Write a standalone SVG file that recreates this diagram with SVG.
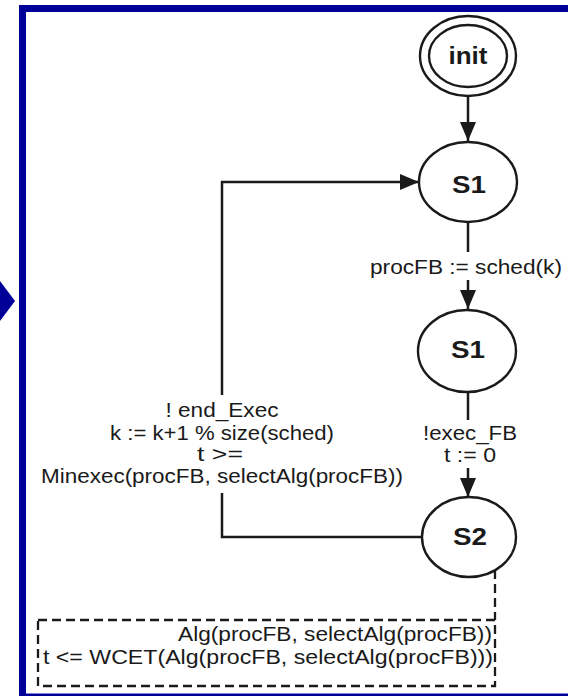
<svg xmlns="http://www.w3.org/2000/svg" width="568" height="696" viewBox="0 0 568 696">
<style>
.st{fill:#fff;stroke:#1a1a1a;stroke-width:2.4}
.ln{fill:none;stroke:#1a1a1a;stroke-width:2.5}
.dash{fill:none;stroke:#1a1a1a;stroke-width:2.3;stroke-dasharray:9,5}
.lbl{font-family:"Liberation Sans",Arial,sans-serif;font-size:20px;fill:#1a1a1a}
.nm{font-family:"Liberation Sans",Arial,sans-serif;font-size:23px;font-weight:bold;fill:#1a1a1a;text-anchor:middle}
</style>
<defs>
<marker id="arr" markerUnits="userSpaceOnUse" markerWidth="20" markerHeight="16" refX="19" refY="8" orient="auto">
<path d="M0,0 L19,8 L0,16 z" fill="#1a1a1a"/>
</marker>
</defs>
<rect x="22.5" y="8.5" width="600" height="688.5" fill="#fff" stroke="#000099" stroke-width="7"/>
<polygon points="0,281 15,301 0,321" fill="#000099"/>
<g id="connectors">
<line class="ln" x1="468" y1="96" x2="468" y2="141" marker-end="url(#arr)"/>
<line class="ln" x1="468" y1="222" x2="468" y2="252"/>
<line class="ln" x1="468" y1="280" x2="468" y2="309" marker-end="url(#arr)"/>
<line class="ln" x1="468" y1="392" x2="468" y2="420"/>
<line class="ln" x1="468" y1="468" x2="468" y2="497" marker-end="url(#arr)"/>
<polyline class="ln" points="423,537 222,537 222,493"/>
<polyline class="ln" points="222,395 222,182 419,182" marker-end="url(#arr)"/>
<polyline class="dash" points="495,570 495,620"/>
<text class="lbl" x="466" y="274" text-anchor="middle" textLength="192" lengthAdjust="spacingAndGlyphs">procFB := sched(k)</text>
<text class="lbl" x="470" y="440" text-anchor="middle" textLength="94" lengthAdjust="spacingAndGlyphs">!exec_FB</text>
<text class="lbl" x="470" y="462" text-anchor="middle" textLength="52" lengthAdjust="spacingAndGlyphs">t := 0</text>
<text class="lbl" x="222" y="417" text-anchor="middle" textLength="113" lengthAdjust="spacingAndGlyphs">! end_Exec</text>
<text class="lbl" x="222" y="440" text-anchor="middle" textLength="224" lengthAdjust="spacingAndGlyphs">k := k+1 % size(sched)</text>
<text class="lbl" x="220" y="461" text-anchor="middle" textLength="46" lengthAdjust="spacingAndGlyphs">t &gt;=</text>
<text class="lbl" x="222" y="483" text-anchor="middle" textLength="362" lengthAdjust="spacingAndGlyphs">Minexec(procFB, selectAlg(procFB))</text>
</g>
<g id="init">
<ellipse class="st" cx="468" cy="56" rx="48" ry="40"/>
<ellipse class="st" cx="468" cy="56" rx="39" ry="31"/>
<text class="nm" x="468" y="64" textLength="39" lengthAdjust="spacingAndGlyphs">init</text>
</g>
<g id="S1a">
<ellipse class="st" cx="468" cy="182" rx="49" ry="40"/>
<text class="nm" x="469" y="193" textLength="34" lengthAdjust="spacingAndGlyphs">S1</text>
</g>
<g id="S1b">
<ellipse class="st" cx="467" cy="351" rx="49" ry="41"/>
<text class="nm" x="468" y="358" textLength="34" lengthAdjust="spacingAndGlyphs">S1</text>
</g>
<g id="S2">
<ellipse class="st" cx="469" cy="537" rx="47" ry="40"/>
<text class="nm" x="470" y="545" textLength="34" lengthAdjust="spacingAndGlyphs">S2</text>
</g>
<g id="guard">
<rect class="dash" x="38" y="620" width="457" height="66"/>
<text class="lbl" x="492" y="641" text-anchor="end" textLength="314" lengthAdjust="spacingAndGlyphs">Alg(procFB, selectAlg(procFB))</text>
<text class="lbl" x="493" y="664" text-anchor="end" textLength="450" lengthAdjust="spacingAndGlyphs">t &lt;= WCET(Alg(procFB, selectAlg(procFB)))</text>
</g>
</svg>
